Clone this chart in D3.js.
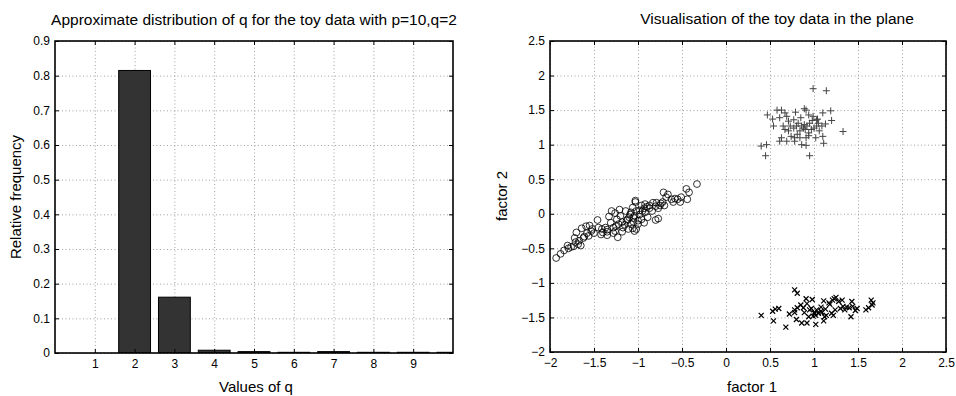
<!DOCTYPE html>
<html>
<head>
<meta charset="utf-8">
<script src="https://cdn.jsdelivr.net/npm/d3@7"></script>
<style>
  body { margin: 0; background: #fff; }
  svg { display: block; font-family: "Liberation Sans", Arial, Helvetica, sans-serif; }
  .grid line { stroke: #8a8a8a; stroke-width: 0.8; stroke-dasharray: 1 2.5; }
  .grid path { display: none; }
  .ticks path { display: none; }
  .ticks line { stroke: #000; stroke-width: 1; }
  .ticks text { font-size: 12px; fill: #000; }
</style>
</head>
<body>
<svg id="chart" width="956" height="396"></svg>
<script>
// left panel: distribution of q
const qValues = [1, 2, 3, 4, 5, 6, 7, 8, 9, 10]
const qFreq = [0, 0.815, 0.161, 0.008, 0.004, 0.002, 0.004, 0.002, 0.002, 0.002]
const qTicks = [1, 2, 3, 4, 5, 6, 7, 8, 9]
const freqTicks = [0, 0.1, 0.2, 0.3, 0.4, 0.5, 0.6, 0.7, 0.8, 0.9]

// right panel: toy data in the plane
const factorTicks = [-2, -1.5, -1, -0.5, 0, 0.5, 1, 1.5, 2, 2.5]

const circlePoints = [
  [-1.93, -0.64], [-1.88, -0.58], [-1.84, -0.53], [-1.79, -0.50], [-1.76, -0.48], [-1.73, -0.47],
  [-1.71, -0.41], [-1.72, -0.35], [-1.65, -0.46], [-1.67, -0.39], [-1.62, -0.35], [-1.70, -0.27],
  [-1.64, -0.21], [-1.59, -0.18], [-1.55, -0.17], [-1.58, -0.28], [-1.56, -0.32], [-1.53, -0.25],
  [-1.61, -0.33], [-1.46, -0.09], [-1.41, -0.22], [-1.40, -0.27], [-1.37, -0.20], [-1.35, -0.26],
  [-1.33, -0.04], [-1.31, -0.13], [-1.28, -0.20], [-1.26, -0.25], [-1.24, -0.08], [-1.23, -0.34],
  [-1.22, -0.15], [-1.20, -0.03], [-1.18, -0.12], [-1.17, -0.20], [-1.14, 0.04], [-1.12, -0.08],
  [-1.11, -0.22], [-1.09, -0.01], [-1.08, -0.15], [-1.06, 0.09], [-1.05, -0.06], [-1.03, 0.17],
  [-1.02, -0.22], [-1.26, 0.01], [-1.21, 0.06], [-1.30, 0.04],
  [-0.33, 0.43], [-0.45, 0.36], [-0.42, 0.31], [-0.44, 0.21], [-0.51, 0.24], [-0.55, 0.21],
  [-0.52, 0.17], [-0.58, 0.22], [-0.62, 0.21], [-0.66, 0.28], [-0.71, 0.31], [-0.68, 0.24],
  [-0.72, 0.17], [-0.70, 0.12], [-0.74, 0.15], [-0.79, 0.16], [-0.83, 0.16], [-0.80, 0.11],
  [-0.77, 0.08], [-0.75, 0.12], [-0.87, 0.12], [-0.92, 0.14], [-0.93, 0.08], [-0.96, 0.12],
  [-1.03, 0.19], [-1.02, 0.04], [-0.98, -0.01], [-1.04, -0.03], [-0.92, 0.02], [-0.89, -0.05],
  [-0.96, -0.08], [-0.93, -0.13], [-0.80, -0.09], [-0.77, -0.07], [-1.00, -0.15], [-1.06, -0.21],
  [-1.04, -0.25], [-0.87, 0.08], [-0.84, 0.04],
  [-1.10, -0.05], [-1.00, -0.10], [-1.15, -0.16], [-1.25, -0.18], [-1.35, -0.23], [-1.45, -0.20],
  [-0.95, 0.04], [-1.08, 0.02], [-1.13, -0.10], [-1.50, -0.28], [-1.42, -0.30], [-1.18, -0.26],
  [-0.98, 0.05], [-1.05, -0.12], [-1.28, -0.28], [-1.68, -0.44], [-1.80, -0.46], [-1.52, -0.22],
  [-1.35, -0.31], [-0.90, 0.10], [-0.60, 0.17]
]

const plusPoints = [
  [0.99, 1.81], [1.14, 1.78], [0.58, 1.50], [0.63, 1.50], [0.47, 1.43], [0.53, 1.37],
  [0.61, 1.39], [0.67, 1.46], [0.69, 1.41], [0.79, 1.47], [0.89, 1.52], [0.91, 1.50],
  [0.85, 1.39], [0.94, 1.43], [1.19, 1.49], [1.10, 1.46], [1.20, 1.35], [0.54, 1.27],
  [0.65, 1.27], [0.71, 1.34], [0.73, 1.27], [0.77, 1.24], [0.80, 1.27], [0.86, 1.27],
  [0.89, 1.29], [0.92, 1.27], [0.95, 1.31], [0.98, 1.35], [1.03, 1.36], [1.05, 1.31],
  [1.09, 1.27], [1.13, 1.30], [1.00, 1.24], [0.97, 1.22], [0.94, 1.17], [0.90, 1.22],
  [0.84, 1.20], [0.81, 1.15], [0.78, 1.10], [0.74, 1.12], [0.71, 1.20], [0.67, 1.22],
  [0.63, 1.10], [0.61, 1.05], [0.69, 1.05], [0.78, 1.05], [0.84, 1.10], [0.91, 1.10],
  [0.94, 1.13], [1.02, 1.10], [1.06, 1.20], [1.10, 1.12], [1.11, 1.02], [0.86, 1.00],
  [0.91, 0.99], [0.40, 0.98], [0.46, 1.00], [0.45, 0.84], [0.95, 0.84], [1.33, 1.19],
  [1.04, 1.37], [0.88, 1.24], [0.82, 1.31], [0.77, 1.36], [0.99, 1.41], [1.03, 1.27]
]

const crossPoints = [
  [0.40, -1.47], [0.53, -1.41], [0.56, -1.38], [0.60, -1.37], [0.54, -1.55], [0.68, -1.64],
  [0.78, -1.10], [0.81, -1.15], [0.72, -1.45], [0.78, -1.39], [0.81, -1.36], [0.85, -1.32],
  [0.80, -1.53], [0.86, -1.58], [0.92, -1.58], [0.91, -1.23], [0.92, -1.30], [0.98, -1.24],
  [0.95, -1.39], [0.89, -1.43], [0.97, -1.37], [1.00, -1.43], [1.02, -1.47], [1.03, -1.39],
  [1.02, -1.60], [1.08, -1.35], [1.11, -1.26], [1.13, -1.38], [1.12, -1.49], [1.17, -1.29],
  [1.18, -1.31], [1.20, -1.44], [1.22, -1.47], [1.24, -1.39], [1.21, -1.25], [1.23, -1.23],
  [1.25, -1.21], [1.28, -1.27], [1.32, -1.25], [1.30, -1.37], [1.37, -1.35], [1.40, -1.36],
  [1.43, -1.27], [1.42, -1.49], [1.49, -1.37], [1.44, -1.34], [1.59, -1.39], [1.62, -1.36],
  [1.65, -1.25], [1.66, -1.32], [1.67, -1.29], [1.01, -1.44], [0.99, -1.48], [1.05, -1.44],
  [1.09, -1.43], [0.88, -1.36], [0.78, -1.43], [0.94, -1.49], [1.08, -1.41], [1.14, -1.47],
  [1.33, -1.34], [1.35, -1.39], [1.47, -1.40], [1.11, -1.55]
]

const svg = d3.select('#chart')
const tickLen = 4
const fmt = d => String(d).replace('-', '\u2212')

// dotted grid for one panel
function drawFrame(g, x, y, xTicks, yTicks) {
  const [x0, x1] = x.range()
  const [y1, y0] = y.range()
  const w = x1 - x0, h = y1 - y0

  g.append('g').attr('class', 'grid')
    .attr('transform', `translate(0,${y1})`)
    .call(d3.axisBottom(x).tickValues(xTicks).tickSize(-h).tickFormat(''))
  g.append('g').attr('class', 'grid')
    .attr('transform', `translate(${x0},0)`)
    .call(d3.axisLeft(y).tickValues(yTicks).tickSize(-w).tickFormat(''))
}

// inward ticks on all four sides, labels bottom/left, and the box
function drawAxes(g, x, y, xTicks, yTicks) {
  const [x0, x1] = x.range()
  const [y1, y0] = y.range()

  g.append('g').attr('class', 'ticks')
    .attr('transform', `translate(0,${y1})`)
    .call(d3.axisBottom(x).tickValues(xTicks).tickSize(-tickLen).tickPadding(6).tickFormat(fmt))
  g.append('g').attr('class', 'ticks')
    .attr('transform', `translate(0,${y0})`)
    .call(d3.axisTop(x).tickValues(xTicks).tickSize(-tickLen).tickFormat(''))
  g.append('g').attr('class', 'ticks')
    .attr('transform', `translate(${x0},0)`)
    .call(d3.axisLeft(y).tickValues(yTicks).tickSize(-tickLen).tickPadding(5).tickFormat(fmt))
  g.append('g').attr('class', 'ticks')
    .attr('transform', `translate(${x1},0)`)
    .call(d3.axisRight(y).tickValues(yTicks).tickSize(-tickLen).tickFormat(''))

  g.append('rect')
    .attr('x', x0).attr('y', y0)
    .attr('width', x1 - x0).attr('height', y1 - y0)
    .attr('fill', 'none').attr('stroke', '#000').attr('stroke-width', 1.6)
}

// ---- left: bar chart ----
{
  const x = d3.scaleLinear().domain([0, 10]).range([55, 453])
  const y = d3.scaleLinear().domain([0, 0.9]).range([353, 41])
  const g = svg.append('g')

  drawFrame(g, x, y, qTicks, freqTicks)

  g.append('clipPath').attr('id', 'clipLeft')
    .append('rect').attr('x', 55).attr('y', 41).attr('width', 398).attr('height', 312)

  const barW = 0.8
  g.append('g').attr('clip-path', 'url(#clipLeft)')
    .selectAll('rect')
    .data(qValues.map((q, i) => ({ q, f: qFreq[i] })))
    .join('rect')
    .attr('x', d => x(d.q - barW / 2))
    .attr('width', x(barW) - x(0))
    .attr('y', d => y(d.f))
    .attr('height', d => y(0) - y(d.f))
    .attr('fill', '#333')
    .attr('stroke', '#000')
    .attr('stroke-width', 1)

  drawAxes(g, x, y, qTicks, freqTicks)

  g.append('text').attr('x', 254).attr('y', 25).attr('text-anchor', 'middle')
    .attr('font-size', 15.5).text('Approximate distribution of q for the toy data with p=10,q=2')
  g.append('text').attr('x', 256).attr('y', 392).attr('text-anchor', 'middle')
    .attr('font-size', 15).text('Values of q')
  g.append('text').attr('transform', 'translate(21,197) rotate(-90)').attr('text-anchor', 'middle')
    .attr('font-size', 15).text('Relative frequency')
}

// ---- right: scatter ----
{
  const x = d3.scaleLinear().domain([-2, 2.5]).range([550, 946])
  const y = d3.scaleLinear().domain([-2, 2.5]).range([352, 41])
  const g = svg.append('g')

  drawFrame(g, x, y, factorTicks, factorTicks)

  g.append('g').selectAll('circle')
    .data(circlePoints)
    .join('circle')
    .attr('cx', d => x(d[0]))
    .attr('cy', d => y(d[1]))
    .attr('r', 3.4)
    .attr('fill', 'none')
    .attr('stroke', '#000')
    .attr('stroke-width', 0.8)

  g.append('g').selectAll('path')
    .data(plusPoints)
    .join('path')
    .attr('transform', d => `translate(${x(d[0])},${y(d[1])})`)
    .attr('d', 'M-3.5,0H3.5M0,-3.5V3.5')
    .attr('stroke', '#444')
    .attr('stroke-width', 1)

  g.append('g').selectAll('path')
    .data(crossPoints)
    .join('path')
    .attr('transform', d => `translate(${x(d[0])},${y(d[1])})`)
    .attr('d', 'M-2.5,-2.5L2.5,2.5M-2.5,2.5L2.5,-2.5')
    .attr('stroke', '#000')
    .attr('stroke-width', 1.2)

  drawAxes(g, x, y, factorTicks, factorTicks)

  g.append('text').attr('x', 777).attr('y', 24).attr('text-anchor', 'middle')
    .attr('font-size', 15.5).text('Visualisation of the toy data in the plane')
  g.append('text').attr('x', 752).attr('y', 392).attr('text-anchor', 'middle')
    .attr('font-size', 15).text('factor 1')
  g.append('text').attr('transform', 'translate(507,196) rotate(-90)').attr('text-anchor', 'middle')
    .attr('font-size', 15).text('factor 2')
}
</script>
</body>
</html>
